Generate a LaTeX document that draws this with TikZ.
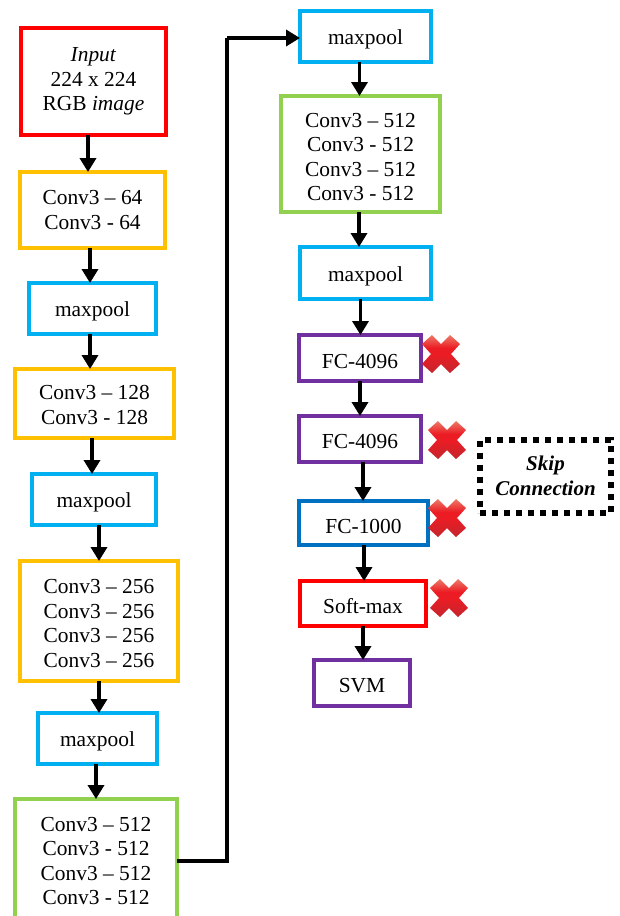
\documentclass[tikz,border=0pt]{standalone}
\usepackage{fontspec}
\setmainfont{Liberation Serif}
\usetikzlibrary{arrows.meta,calc}
\definecolor{cred}{HTML}{FF0000}
\definecolor{cyel}{HTML}{FFC000}
\definecolor{ccy}{HTML}{00B0F0}
\definecolor{cgrn}{HTML}{92D050}
\definecolor{cpur}{HTML}{7030A0}
\definecolor{cblu}{HTML}{0070C0}
\definecolor{xtop}{HTML}{EC7A68}
\definecolor{xmid}{HTML}{EC1C24}
\definecolor{xbot}{HTML}{C4262E}
\pgfdeclareverticalshading{xshade}{100bp}{
  color(0bp)=(xbot);
  color(25bp)=(xbot);
  color(50bp)=(xmid);
  color(58bp)=(xmid);
  color(75bp)=(xtop);
  color(100bp)=(xtop)}
\tikzset{
  x=1pt,y=-1pt,
  box/.style={draw,line width=3.2pt,fill=white,inner sep=0pt,outer sep=0pt},
  boxtext/.style={align=center,inner sep=0pt,font=\fontsize{21.4}{24.5}\selectfont},
  flow/.style={line width=3.6pt,-{Triangle[length=14pt,width=16pt]}},
  link/.style={line width=3.6pt},
  skipbox/.style={draw,line width=6pt,dash pattern=on 6pt off 6pt,align=center,inner sep=0pt,
    font=\fontsize{21}{25}\selectfont\bfseries\itshape},
  pics/cross/.style={code={
    \path[shading=xshade]
      (0,-10)--(9,-19)--(19,-10)--(10,0)--(19,10)--(9,19)--(0,10)--(-9,19)--(-19,10)--(-10,0)--(-19,-10)--(-9,-19)--cycle;
  }}
}
% name, left, top, right, bottom, colour, text shift down, text
\newcommand{\bx}[8]{\node[box,draw=#6,minimum width={(#4)-(#2)},minimum height={(#5)-(#3)}] (#1) at ({((#2)+(#4))/2},{((#3)+(#5))/2}) {};
  \node[boxtext] (#1t) at ([yshift=-#7pt]#1.center) {#8};}
\newcommand{\fl}[3]{\draw[flow] ([xshift=#3]#1.south) -- ([xshift=#3]#1.south |- #2.north);}
\begin{document}
\begin{tikzpicture}
\useasboundingbox (0,0) rectangle (619,916);
\bx{inp}{21}{28}{166}{135}{cred}{0}{\textit{Input}\\224 x 224\\RGB \textit{image}}
\bx{ca}{20}{172}{165}{248}{cyel}{0}{Conv3 – 64\\Conv3 - 64}
\bx{ma}{29}{283}{156}{334}{ccy}{3}{maxpool}
\bx{cb}{15}{369}{174}{438}{cyel}{1.5}{Conv3 – 128\\Conv3 - 128}
\bx{mb}{32}{474}{156}{525}{ccy}{3}{maxpool}
\bx{cc}{20}{561}{178}{681}{cyel}{2.5}{Conv3 – 256\\Conv3 – 256\\Conv3 – 256\\Conv3 – 256}
\bx{mc}{38}{713}{157}{764}{ccy}{3}{maxpool}
\bx{cd}{15}{799}{177}{922}{cgrn}{0.5}{Conv3 – 512\\Conv3 - 512\\Conv3 – 512\\Conv3 - 512}
\bx{md}{300}{11}{431}{62}{ccy}{3}{maxpool}
\bx{ce}{281}{96}{440}{212}{cgrn}{3}{Conv3 – 512\\Conv3 - 512\\Conv3 – 512\\Conv3 - 512}
\bx{me}{300}{247}{431}{299}{ccy}{3}{maxpool}
\bx{fa}{299}{335}{421}{381}{cpur}{3}{FC-4096}
\bx{fb}{299}{416}{421}{462}{cpur}{2}{FC-4096}
\bx{fc}{299}{501}{428}{545}{cblu}{3}{FC-1000}
\bx{sm}{300}{581}{426}{626}{cred}{3}{Soft-max}
\bx{sv}{314}{660}{410}{706}{cpur}{3}{SVM}
\node[skipbox,minimum width=131pt,minimum height=73pt] (sk) at (545.5,476) {Skip\\Connection};
\fl{inp}{ca}{-5.5}
\fl{ca}{ma}{-2.5}
\fl{ma}{cb}{-2.5}
\fl{cb}{mb}{-2.5}
\fl{mb}{cc}{5}
\fl{cc}{mc}{0}
\fl{mc}{cd}{-1.5}
\fl{md}{ce}{-6}
\fl{ce}{me}{-1.5}
\fl{me}{fa}{-5}
\fl{fa}{fb}{0}
\fl{fb}{fc}{3}
\fl{fc}{sm}{0.5}
\fl{sm}{sv}{0}
\coordinate (turn) at (227,38);
\draw[link] (cd.east |- 0,861) -| (turn);
\draw[flow] (turn) -- (md.west |- turn);
\pic at (441,354) {cross};
\pic at (447,440) {cross};
\pic at (447,518) {cross};
\pic at (449,598) {cross};
\end{tikzpicture}
\end{document}
